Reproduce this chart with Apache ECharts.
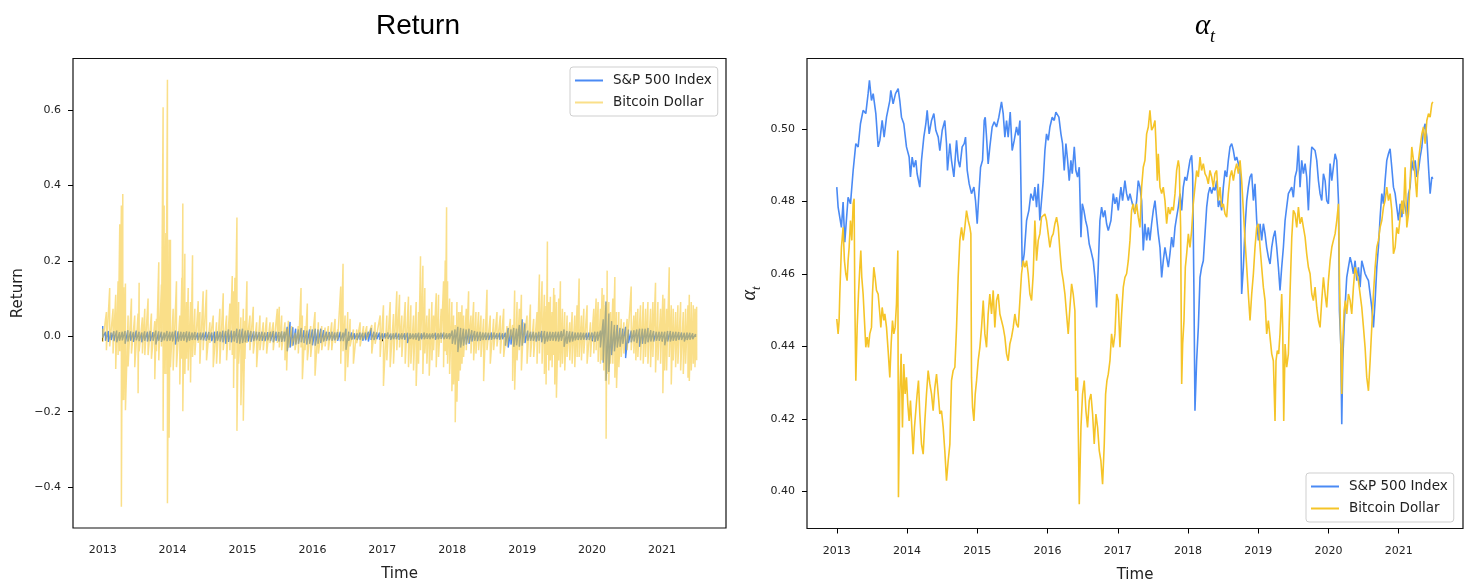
<!DOCTYPE html>
<html><head><meta charset="utf-8">
<script src="https://cdn.jsdelivr.net/npm/echarts@6/dist/echarts.min.js"></script>
<style>html,body{margin:0;padding:0;background:#fff;}#c{width:1469px;height:581px;}</style>
</head><body><div id="c"></div>
<script>
// ---- tick labels ----
const yearTicks = [2013, 2014, 2015, 2016, 2017, 2018, 2019, 2020, 2021];
const returnTicks = [-0.4, -0.2, 0, 0.2, 0.4, 0.6];
const alphaTicks = [0.40, 0.42, 0.44, 0.46, 0.48, 0.50];
const seriesNames = ['S&P 500 Index', 'Bitcoin Dollar'];

// ---- S&P 500 daily return: time, upper, lower ----
const spRetT = [
2013.00,2013.04,2013.08,2013.12,2013.16,2013.20,2013.24,2013.28,2013.32,2013.36,2013.40,2013.44,2013.48,2013.52,2013.56,2013.60,2013.64,2013.68,2013.72,2013.76,2013.80,2013.84,2013.88,2013.92,2013.96,
2014.00,2014.04,2014.08,2014.12,2014.16,2014.20,2014.24,2014.28,2014.32,2014.36,2014.40,2014.44,2014.48,2014.52,2014.56,2014.60,2014.64,2014.68,2014.72,2014.76,2014.80,2014.84,2014.88,2014.92,2014.96,
2015.00,2015.04,2015.08,2015.12,2015.16,2015.20,2015.24,2015.28,2015.32,2015.36,2015.40,2015.44,2015.48,2015.52,2015.56,2015.60,2015.64,2015.68,2015.72,2015.76,2015.80,2015.84,2015.88,2015.92,2015.96,
2016.00,2016.04,2016.08,2016.12,2016.16,2016.20,2016.24,2016.28,2016.32,2016.36,2016.40,2016.44,2016.48,2016.52,2016.56,2016.60,2016.64,2016.68,2016.72,2016.76,2016.80,2016.84,2016.88,2016.92,2016.96,
2017.00,2017.04,2017.08,2017.12,2017.16,2017.20,2017.24,2017.28,2017.32,2017.36,2017.40,2017.44,2017.48,2017.52,2017.56,2017.60,2017.64,2017.68,2017.72,2017.76,2017.80,2017.84,2017.88,2017.92,2017.96,
2018.00,2018.04,2018.08,2018.12,2018.16,2018.20,2018.24,2018.28,2018.32,2018.36,2018.40,2018.44,2018.48,2018.52,2018.56,2018.60,2018.64,2018.68,2018.72,2018.76,2018.80,2018.84,2018.88,2018.92,2018.96,
2019.00,2019.04,2019.08,2019.12,2019.16,2019.20,2019.24,2019.28,2019.32,2019.36,2019.40,2019.44,2019.48,2019.52,2019.56,2019.60,2019.64,2019.68,2019.72,2019.76,2019.80,2019.84,2019.88,2019.92,2019.96,
2020.00,2020.04,2020.08,2020.12,2020.16,2020.20,2020.24,2020.28,2020.32,2020.36,2020.40,2020.44,2020.48,2020.52,2020.56,2020.60,2020.64,2020.68,2020.72,2020.76,2020.80,2020.84,2020.88,2020.92,2020.96,
2021.00,2021.04,2021.08,2021.12,2021.16,2021.20,2021.24,2021.28,2021.32,2021.36,2021.40,2021.44,2021.48
];
const spRetHi = [
0.027,0.012,0.014,0.010,0.013,0.015,0.011,0.012,0.014,0.016,0.013,0.011,0.015,0.012,0.010,0.013,0.012,0.014,0.011,0.015,0.013,0.012,0.010,0.014,0.012,
0.012,0.015,0.013,0.012,0.011,0.013,0.012,0.010,0.011,0.009,0.010,0.010,0.012,0.011,0.010,0.012,0.013,0.012,0.015,0.014,0.018,0.015,0.014,0.020,0.018,
0.020,0.015,0.016,0.014,0.013,0.012,0.011,0.012,0.010,0.011,0.012,0.014,0.012,0.011,0.013,0.012,0.025,0.038,0.024,0.020,0.018,0.022,0.016,0.015,0.018,
0.018,0.020,0.018,0.020,0.016,0.012,0.011,0.012,0.010,0.011,0.012,0.010,0.020,0.012,0.010,0.008,0.008,0.010,0.009,0.010,0.012,0.022,0.012,0.010,0.010,
0.008,0.008,0.010,0.007,0.008,0.009,0.007,0.008,0.008,0.009,0.008,0.007,0.008,0.009,0.008,0.010,0.008,0.007,0.008,0.009,0.008,0.009,0.010,0.008,0.008,
0.015,0.018,0.025,0.022,0.020,0.018,0.020,0.016,0.014,0.012,0.012,0.010,0.010,0.009,0.010,0.010,0.008,0.009,0.008,0.009,0.022,0.018,0.022,0.020,0.030,
0.045,0.034,0.015,0.012,0.012,0.010,0.012,0.014,0.014,0.012,0.012,0.011,0.012,0.012,0.014,0.018,0.014,0.013,0.012,0.010,0.010,0.010,0.009,0.009,0.010,
0.010,0.012,0.012,0.015,0.045,0.092,0.060,0.040,0.030,0.030,0.022,0.020,0.025,0.018,0.015,0.016,0.018,0.020,0.020,0.020,0.022,0.016,0.014,0.012,0.012,
0.012,0.012,0.014,0.014,0.012,0.012,0.011,0.010,0.009,0.010,0.009,0.008,0.006
];
const spRetLo = [
-0.004,-0.012,-0.015,-0.010,-0.013,-0.016,-0.012,-0.011,-0.020,-0.014,-0.012,-0.015,-0.011,-0.013,-0.016,-0.012,-0.014,-0.013,-0.012,-0.022,-0.012,-0.015,-0.011,-0.013,-0.012,
-0.013,-0.022,-0.014,-0.012,-0.012,-0.016,-0.012,-0.010,-0.010,-0.011,-0.010,-0.011,-0.012,-0.010,-0.013,-0.018,-0.012,-0.014,-0.016,-0.020,-0.015,-0.016,-0.014,-0.018,-0.020,
-0.018,-0.016,-0.014,-0.015,-0.013,-0.011,-0.012,-0.012,-0.013,-0.011,-0.013,-0.016,-0.012,-0.014,-0.015,-0.014,-0.040,-0.030,-0.025,-0.022,-0.020,-0.016,-0.018,-0.022,-0.020,
-0.024,-0.025,-0.020,-0.018,-0.014,-0.012,-0.011,-0.012,-0.011,-0.012,-0.013,-0.013,-0.036,-0.012,-0.009,-0.008,-0.010,-0.009,-0.012,-0.011,-0.014,-0.010,-0.010,-0.008,-0.009,
-0.008,-0.006,-0.007,-0.010,-0.008,-0.008,-0.009,-0.008,-0.009,-0.018,-0.007,-0.008,-0.009,-0.012,-0.008,-0.008,-0.007,-0.008,-0.006,-0.009,-0.008,-0.007,-0.008,-0.007,-0.008,
-0.020,-0.022,-0.042,-0.030,-0.025,-0.022,-0.020,-0.014,-0.012,-0.013,-0.012,-0.010,-0.010,-0.010,-0.009,-0.008,-0.008,-0.009,-0.008,-0.025,-0.030,-0.022,-0.028,-0.024,-0.028,
-0.025,-0.018,-0.012,-0.012,-0.012,-0.014,-0.012,-0.016,-0.020,-0.014,-0.012,-0.012,-0.013,-0.014,-0.012,-0.028,-0.020,-0.016,-0.014,-0.011,-0.010,-0.010,-0.009,-0.010,-0.010,
-0.012,-0.015,-0.012,-0.030,-0.070,-0.118,-0.095,-0.050,-0.040,-0.030,-0.028,-0.020,-0.058,-0.018,-0.016,-0.014,-0.018,-0.028,-0.020,-0.020,-0.016,-0.014,-0.014,-0.012,-0.012,
-0.014,-0.024,-0.014,-0.014,-0.012,-0.012,-0.010,-0.010,-0.014,-0.010,-0.009,-0.008,-0.002
];

// ---- Bitcoin daily return: time, upper spike, lower spike ----
const btcRetT = [
2013.000,2013.053,2013.100,2013.148,2013.186,2013.220,2013.244,2013.267,2013.287,2013.301,2013.325,2013.363,2013.411,2013.458,2013.506,2013.521,2013.568,2013.602,2013.649,2013.697,
2013.745,2013.769,2013.802,2013.840,2013.864,2013.879,2013.903,2013.926,2013.950,2013.969,2014.008,2014.055,2014.103,2014.132,2014.146,2014.175,2014.199,2014.223,2014.256,2014.285,
2014.318,2014.366,2014.390,2014.437,2014.485,2014.533,2014.581,2014.628,2014.676,2014.724,2014.772,2014.819,2014.853,2014.872,2014.891,2014.920,2014.944,2014.977,2015.011,2015.034,
2015.063,2015.106,2015.154,2015.202,2015.249,2015.297,2015.345,2015.393,2015.440,2015.498,2015.526,2015.560,2015.607,2015.631,2015.655,2015.703,2015.751,2015.798,2015.837,2015.856,
2015.894,2015.927,2015.975,2016.037,2016.085,2016.133,2016.181,2016.228,2016.276,2016.324,2016.362,2016.405,2016.438,2016.467,2016.505,2016.539,2016.586,2016.634,2016.682,2016.730,
2016.777,
2016.849,2016.897,2016.969,2017.016,2017.064,2017.112,2017.160,2017.207,2017.246,2017.279,2017.327,2017.374,2017.408,2017.446,2017.484,2017.518,2017.546,2017.580,2017.608,2017.637,
2017.671,2017.709,2017.733,2017.771,2017.804,2017.842,2017.876,2017.900,2017.919,2017.933,2017.962,2017.995,2018.019,2018.043,2018.067,2018.091,2018.115,2018.139,2018.162,2018.201,
2018.234,2018.268,2018.306,2018.339,2018.377,2018.411,2018.449,2018.497,2018.544,2018.592,2018.640,2018.688,2018.736,2018.783,2018.831,2018.864,2018.893,2018.927,2018.960,2018.989,
2019.022,2019.070,2019.118,2019.165,2019.213,2019.247,2019.285,2019.318,2019.342,2019.361,2019.380,2019.404,2019.428,2019.452,2019.466,2019.490,2019.523,2019.547,2019.576,2019.609,
2019.643,2019.681,2019.715,2019.753,2019.786,2019.815,2019.848,2019.882,2019.929,2019.977,2020.025,2020.058,2020.087,2020.120,2020.144,2020.168,2020.192,2020.201,2020.216,2020.240,
2020.264,2020.297,2020.326,2020.350,2020.383,2020.417,2020.455,2020.502,2020.560,2020.598,2020.626,2020.655,2020.693,2020.732,2020.765,2020.799,2020.837,2020.870,2020.908,2020.942,
2020.980,2021.013,2021.037,2021.066,2021.104,2021.133,2021.161,2021.195,2021.228,2021.267,2021.305,2021.338,2021.372,2021.391,2021.419,2021.448,2021.472,2021.496
];
const btcRetHi = [
0.020,0.064,0.128,0.073,0.110,0.146,0.297,0.347,0.377,0.130,0.140,0.055,0.100,0.055,0.060,0.142,0.050,0.073,0.100,0.060,
0.040,0.046,0.196,0.137,0.607,0.347,0.274,0.680,0.256,0.256,0.073,0.146,0.055,0.155,0.352,0.219,0.091,0.128,0.091,0.215,
0.073,0.093,0.064,0.119,0.123,0.037,0.055,0.037,0.073,0.114,0.055,0.087,0.160,0.119,0.155,0.315,0.091,0.050,0.073,0.041,
0.146,0.055,0.078,0.037,0.055,0.037,0.050,0.037,0.037,0.073,0.078,0.055,0.037,0.020,0.041,0.027,0.009,0.027,0.128,0.055,
0.027,0.087,0.027,0.064,0.037,0.027,0.023,0.027,0.037,0.046,0.018,0.132,0.192,0.055,0.064,0.046,0.018,0.018,0.037,0.027,
0.027,
0.030,0.037,0.055,0.082,0.055,0.091,0.059,0.119,0.110,0.055,0.091,0.105,0.082,0.055,0.091,0.064,0.212,0.187,0.128,0.055,
0.073,0.091,0.055,0.114,0.110,0.073,0.146,0.201,0.342,0.146,0.100,0.091,0.055,0.030,0.091,0.064,0.064,0.082,0.055,0.073,
0.119,0.055,0.091,0.064,0.064,0.055,0.046,0.123,0.055,0.046,0.064,0.055,0.073,0.027,0.046,0.030,0.121,0.091,0.073,0.110,
0.037,0.055,0.084,0.046,0.064,0.164,0.146,0.110,0.080,0.251,0.091,0.105,0.064,0.128,0.110,0.091,0.100,0.146,0.073,0.064,
0.055,0.037,0.064,0.055,0.082,0.153,0.055,0.073,0.082,0.037,0.073,0.100,0.091,0.073,0.128,0.110,0.082,0.091,0.174,0.091,
0.064,0.100,0.157,0.064,0.064,0.046,0.037,0.046,0.132,0.055,0.064,0.073,0.082,0.091,0.073,0.091,0.073,0.091,0.142,0.091,
0.073,0.110,0.100,0.073,0.183,0.082,0.073,0.064,0.082,0.091,0.064,0.073,0.082,0.110,0.091,0.082,0.073,0.078
];
const btcRetLo = [
-0.015,-0.037,-0.027,-0.046,-0.087,-0.050,-0.040,-0.452,-0.170,-0.169,-0.196,-0.080,-0.046,-0.082,-0.151,-0.040,-0.046,-0.050,-0.050,-0.060,
-0.114,-0.040,-0.064,-0.027,-0.251,-0.100,-0.100,-0.443,-0.269,-0.082,-0.091,-0.082,-0.128,-0.060,-0.199,-0.100,-0.060,-0.091,-0.123,-0.055,
-0.050,-0.018,-0.073,-0.037,-0.064,-0.018,-0.082,-0.073,-0.073,-0.037,-0.064,-0.037,-0.050,-0.137,-0.060,-0.251,-0.073,-0.183,-0.224,-0.060,
-0.018,-0.037,-0.046,-0.082,-0.037,-0.037,-0.046,-0.018,-0.037,-0.018,-0.030,-0.037,-0.064,-0.091,-0.030,-0.027,-0.037,-0.046,-0.030,-0.114,
-0.037,-0.064,-0.055,-0.105,-0.046,-0.037,-0.027,-0.037,-0.037,-0.018,-0.009,-0.073,-0.040,-0.119,-0.082,-0.027,-0.073,-0.018,-0.027,-0.009,
-0.009,
-0.046,-0.020,-0.055,-0.132,-0.064,-0.082,-0.073,-0.037,-0.030,-0.055,-0.073,-0.082,-0.073,-0.091,-0.132,-0.073,-0.037,-0.100,-0.046,-0.073,
-0.105,-0.064,-0.037,-0.082,-0.055,-0.018,-0.082,-0.040,-0.050,-0.073,-0.100,-0.146,-0.128,-0.228,-0.174,-0.119,-0.091,-0.073,-0.055,-0.037,
-0.018,-0.046,-0.064,-0.046,-0.037,-0.055,-0.119,-0.037,-0.073,-0.037,-0.027,-0.046,-0.055,-0.027,-0.009,-0.119,-0.142,-0.064,-0.037,-0.091,
-0.018,-0.073,-0.055,-0.055,-0.073,-0.046,-0.073,-0.100,-0.128,-0.050,-0.091,-0.064,-0.082,-0.050,-0.128,-0.163,-0.064,-0.082,-0.073,-0.091,
-0.055,-0.064,-0.073,-0.082,-0.055,-0.055,-0.064,-0.046,-0.073,-0.055,-0.046,-0.037,-0.068,-0.073,-0.064,-0.091,-0.119,-0.272,-0.100,-0.128,
-0.073,-0.073,-0.110,-0.137,-0.082,-0.055,-0.046,-0.037,-0.037,-0.046,-0.064,-0.055,-0.064,-0.073,-0.055,-0.073,-0.082,-0.055,-0.096,-0.064,
-0.073,-0.151,-0.091,-0.091,-0.055,-0.128,-0.064,-0.082,-0.073,-0.091,-0.100,-0.073,-0.110,-0.119,-0.091,-0.073,-0.082,-0.064
];

// ---- alpha_t series ----
const spAlpha = [
[2013.000,0.4840],[2013.019,0.4785],[2013.066,0.4729],[2013.090,0.4799],[2013.114,0.4688],[2013.161,0.4812],[2013.195,0.4794],[2013.233,0.4886],[2013.271,0.4960],[2013.304,0.4951],[2013.337,0.5015],[2013.375,0.5052],[2013.413,0.5043],[2013.446,0.5098],[2013.465,0.5135],[2013.494,0.5079],[2013.518,0.5098],[2013.556,0.5043],[2013.589,0.4951],[2013.613,0.4969],[2013.646,0.5024],[2013.674,0.4978],[2013.708,0.5033],[2013.755,0.5079],[2013.769,0.5107],[2013.802,0.5070],[2013.836,0.5098],[2013.874,0.5112],[2013.897,0.5079],[2013.921,0.5033],[2013.954,0.5015],[2013.992,0.4951],
[2014.030,0.4923],[2014.049,0.4868],[2014.073,0.4923],[2014.097,0.4895],[2014.125,0.4914],[2014.144,0.4877],[2014.182,0.4840],[2014.206,0.4914],[2014.239,0.4978],[2014.268,0.5015],[2014.287,0.5052],[2014.315,0.4987],[2014.349,0.5024],[2014.382,0.5043],[2014.410,0.4997],[2014.444,0.4978],[2014.467,0.4941],[2014.501,0.4997],[2014.538,0.5024],[2014.562,0.4960],[2014.576,0.4886],[2014.610,0.4960],[2014.633,0.4914],[2014.667,0.4868],[2014.705,0.4969],[2014.728,0.4914],[2014.752,0.4895],[2014.785,0.4951],[2014.814,0.4960],[2014.833,0.4978],[2014.857,0.4886],[2014.885,0.4849],[2014.918,0.4822],[2014.952,0.4840],[2014.975,0.4803],[2014.999,0.4739],
[2015.023,0.4822],[2015.047,0.4895],[2015.075,0.4914],[2015.099,0.5024],[2015.113,0.5033],[2015.132,0.4978],[2015.155,0.4904],[2015.179,0.4951],[2015.212,0.5006],[2015.241,0.5020],[2015.274,0.5006],[2015.307,0.5033],[2015.345,0.5075],[2015.369,0.5043],[2015.393,0.4978],[2015.417,0.5024],[2015.440,0.4978],[2015.469,0.5047],[2015.497,0.4941],[2015.526,0.4969],[2015.559,0.5006],[2015.583,0.4983],[2015.607,0.5024],[2015.626,0.5020],[2015.640,0.4619],[2015.668,0.4656],[2015.702,0.4748],[2015.735,0.4776],[2015.763,0.4822],[2015.797,0.4803],[2015.820,0.4840],[2015.844,0.4785],[2015.868,0.4849],[2015.891,0.4748],[2015.915,0.4803],[2015.939,0.4858],[2015.963,0.4941],[2015.986,0.4987],
[2016.010,0.4969],[2016.034,0.5006],[2016.067,0.5033],[2016.096,0.5024],[2016.119,0.5047],[2016.143,0.5052],[2016.162,0.5033],[2016.191,0.4987],[2016.214,0.4960],[2016.238,0.4886],[2016.262,0.4960],[2016.286,0.4914],[2016.309,0.4858],[2016.333,0.4914],[2016.352,0.4877],[2016.381,0.4951],[2016.404,0.4886],[2016.428,0.4868],[2016.452,0.4895],[2016.476,0.4702],[2016.495,0.4794],[2016.518,0.4776],[2016.542,0.4748],[2016.566,0.4729],[2016.594,0.4683],[2016.618,0.4665],[2016.651,0.4637],[2016.675,0.4591],[2016.699,0.4508],[2016.722,0.4619],[2016.746,0.4748],[2016.770,0.4785],[2016.794,0.4757],[2016.817,0.4776],[2016.841,0.4739],[2016.865,0.4720],[2016.903,0.4748],[2016.936,0.4822],[2016.960,0.4794],[2016.984,0.4812],
[2017.007,0.4776],[2017.045,0.4840],[2017.069,0.4803],[2017.102,0.4858],[2017.126,0.4822],[2017.150,0.4803],[2017.174,0.4822],[2017.197,0.4803],[2017.221,0.4803],[2017.245,0.4766],[2017.269,0.4803],[2017.292,0.4858],[2017.316,0.4840],[2017.340,0.4803],[2017.363,0.4665],[2017.387,0.4739],[2017.411,0.4693],[2017.435,0.4729],[2017.458,0.4693],[2017.482,0.4739],[2017.506,0.4776],[2017.530,0.4803],[2017.553,0.4757],[2017.577,0.4711],[2017.601,0.4674],[2017.625,0.4591],[2017.648,0.4637],[2017.672,0.4674],[2017.696,0.4647],[2017.720,0.4619],[2017.743,0.4656],[2017.767,0.4702],[2017.791,0.4674],[2017.815,0.4729],[2017.838,0.4757],[2017.862,0.4785],[2017.886,0.4822],[2017.910,0.4776],[2017.933,0.4840],[2017.957,0.4868],[2017.981,0.4858],
[2018.005,0.4886],[2018.028,0.4914],[2018.052,0.4928],[2018.066,0.4877],[2018.085,0.4545],[2018.099,0.4223],[2018.123,0.4361],[2018.147,0.4453],[2018.171,0.4591],[2018.194,0.4619],[2018.218,0.4637],[2018.242,0.4711],[2018.266,0.4785],[2018.289,0.4822],[2018.313,0.4840],[2018.337,0.4822],[2018.361,0.4840],[2018.384,0.4831],[2018.408,0.4858],[2018.432,0.4785],[2018.456,0.4803],[2018.479,0.4776],[2018.503,0.4840],[2018.527,0.4886],[2018.551,0.4868],[2018.574,0.4914],[2018.598,0.4951],[2018.622,0.4960],[2018.646,0.4941],[2018.669,0.4914],[2018.693,0.4923],[2018.717,0.4905],[2018.741,0.4886],[2018.764,0.4545],[2018.788,0.4619],[2018.812,0.4729],[2018.836,0.4803],[2018.859,0.4840],[2018.883,0.4868],[2018.907,0.4877],[2018.931,0.4803],[2018.954,0.4849],[2018.978,0.4748],
[2019.002,0.4693],[2019.026,0.4739],[2019.049,0.4693],[2019.073,0.4739],[2019.097,0.4711],[2019.120,0.4674],[2019.144,0.4647],[2019.168,0.4628],[2019.192,0.4674],[2019.215,0.4702],[2019.239,0.4720],[2019.263,0.4674],[2019.287,0.4619],[2019.310,0.4555],[2019.334,0.4619],[2019.358,0.4674],[2019.382,0.4748],[2019.405,0.4785],[2019.429,0.4822],[2019.453,0.4822],[2019.477,0.4840],[2019.500,0.4812],[2019.524,0.4868],[2019.548,0.4886],[2019.572,0.4955],[2019.595,0.4840],[2019.619,0.4914],[2019.643,0.4877],[2019.667,0.4905],[2019.690,0.4868],[2019.714,0.4776],[2019.738,0.4886],[2019.762,0.4951],[2019.785,0.4955],[2019.809,0.4941],[2019.833,0.4914],[2019.857,0.4858],[2019.880,0.4822],[2019.904,0.4803],[2019.928,0.4877],[2019.952,0.4858],[2019.975,0.4803],[2019.999,0.4794],
[2020.023,0.4905],[2020.047,0.4858],[2020.070,0.4895],[2020.094,0.4932],[2020.118,0.4914],[2020.142,0.4803],[2020.156,0.4499],[2020.175,0.4407],[2020.189,0.4186],[2020.203,0.4361],[2020.222,0.4453],[2020.241,0.4527],[2020.260,0.4591],[2020.284,0.4619],[2020.308,0.4647],[2020.331,0.4628],[2020.355,0.4601],[2020.379,0.4637],[2020.403,0.4582],[2020.426,0.4619],[2020.450,0.4564],[2020.474,0.4637],[2020.498,0.4619],[2020.521,0.4601],[2020.545,0.4591],[2020.569,0.4582],[2020.593,0.4545],[2020.616,0.4508],[2020.640,0.4453],[2020.664,0.4527],[2020.688,0.4619],[2020.711,0.4674],[2020.735,0.4757],[2020.759,0.4822],[2020.783,0.4794],[2020.806,0.4858],[2020.830,0.4914],[2020.854,0.4932],[2020.877,0.4946],[2020.901,0.4895],[2020.925,0.4840],[2020.949,0.4822],[2020.972,0.4785],[2020.996,0.4748],
[2021.020,0.4794],[2021.044,0.4757],[2021.067,0.4803],[2021.091,0.4785],[2021.115,0.4757],[2021.139,0.4822],[2021.162,0.4840],[2021.186,0.4914],[2021.210,0.4886],[2021.234,0.4914],[2021.257,0.4868],[2021.281,0.4886],[2021.305,0.4923],[2021.329,0.4951],[2021.352,0.4997],[2021.376,0.5015],[2021.400,0.4978],[2021.424,0.4895],[2021.447,0.4822],[2021.471,0.4868],[2021.485,0.4863]
];
const btcAlpha = [
[2013.000,0.4476],[2013.019,0.4435],[2013.033,0.4472],[2013.043,0.4545],[2013.066,0.4674],[2013.090,0.4729],[2013.109,0.4637],[2013.128,0.4601],[2013.147,0.4582],[2013.161,0.4637],[2013.176,0.4674],[2013.195,0.4748],[2013.214,0.4693],[2013.233,0.4794],[2013.247,0.4808],[2013.256,0.4545],[2013.271,0.4306],[2013.290,0.4453],[2013.309,0.4545],[2013.328,0.4619],[2013.342,0.4665],[2013.356,0.4591],[2013.375,0.4545],[2013.394,0.4472],[2013.413,0.4398],[2013.432,0.4426],[2013.451,0.4398],[2013.470,0.4435],[2013.494,0.4453],[2013.508,0.4545],[2013.527,0.4619],[2013.546,0.4591],[2013.565,0.4555],[2013.589,0.4545],[2013.613,0.4490],[2013.627,0.4453],[2013.646,0.4508],[2013.670,0.4472],[2013.684,0.4490],[2013.708,0.4453],[2013.731,0.4389],[2013.755,0.4315],[2013.774,0.4407],[2013.793,0.4472],[2013.812,0.4435],[2013.831,0.4453],[2013.850,0.4518],[2013.869,0.4665],[2013.878,0.3984],[2013.897,0.4269],[2013.916,0.4380],[2013.935,0.4177],[2013.954,0.4352],[2013.973,0.4269],[2013.992,0.4315],
[2014.011,0.4241],[2014.030,0.4195],[2014.049,0.4251],[2014.068,0.4177],[2014.087,0.4103],[2014.106,0.4177],[2014.125,0.4223],[2014.144,0.4269],[2014.163,0.4306],[2014.182,0.4214],[2014.206,0.4131],[2014.230,0.4103],[2014.254,0.4195],[2014.277,0.4269],[2014.301,0.4334],[2014.325,0.4297],[2014.349,0.4269],[2014.372,0.4223],[2014.396,0.4287],[2014.420,0.4324],[2014.444,0.4269],[2014.467,0.4214],[2014.491,0.4223],[2014.515,0.4177],[2014.538,0.4112],[2014.562,0.4030],[2014.586,0.4085],[2014.610,0.4131],[2014.633,0.4306],[2014.657,0.4334],[2014.681,0.4343],[2014.705,0.4453],[2014.728,0.4591],[2014.752,0.4693],[2014.776,0.4729],[2014.800,0.4693],[2014.823,0.4729],[2014.847,0.4775],[2014.871,0.4748],[2014.895,0.4729],[2014.909,0.4711],[2014.918,0.4315],[2014.933,0.4232],[2014.952,0.4195],[2014.971,0.4269],[2014.990,0.4306],
[2015.013,0.4361],[2015.037,0.4398],[2015.061,0.4453],[2015.085,0.4527],[2015.108,0.4435],[2015.132,0.4398],[2015.155,0.4490],[2015.179,0.4545],[2015.203,0.4490],[2015.227,0.4555],[2015.250,0.4453],[2015.274,0.4527],[2015.298,0.4545],[2015.322,0.4490],[2015.345,0.4472],[2015.369,0.4453],[2015.393,0.4426],[2015.417,0.4380],[2015.440,0.4361],[2015.464,0.4407],[2015.488,0.4426],[2015.512,0.4453],[2015.535,0.4490],[2015.559,0.4462],[2015.583,0.4453],[2015.607,0.4527],[2015.630,0.4601],[2015.654,0.4637],[2015.678,0.4619],[2015.702,0.4637],[2015.725,0.4601],[2015.749,0.4545],[2015.773,0.4527],[2015.797,0.4601],[2015.820,0.4748],[2015.844,0.4637],[2015.868,0.4693],[2015.891,0.4711],[2015.915,0.4757],[2015.939,0.4757],[2015.963,0.4766],[2015.986,0.4748],
[2016.010,0.4711],[2016.034,0.4674],[2016.058,0.4702],[2016.081,0.4711],[2016.105,0.4739],[2016.129,0.4757],[2016.153,0.4729],[2016.176,0.4665],[2016.200,0.4610],[2016.224,0.4582],[2016.248,0.4545],[2016.271,0.4490],[2016.295,0.4435],[2016.319,0.4508],[2016.343,0.4573],[2016.366,0.4545],[2016.390,0.4499],[2016.404,0.4278],[2016.428,0.4315],[2016.452,0.3965],[2016.476,0.4177],[2016.499,0.4269],[2016.523,0.4306],[2016.547,0.4223],[2016.570,0.4177],[2016.594,0.4251],[2016.618,0.4269],[2016.642,0.4214],[2016.665,0.4131],[2016.689,0.4214],[2016.713,0.4177],[2016.737,0.4112],[2016.760,0.4085],[2016.784,0.4020],[2016.808,0.4131],[2016.827,0.4269],[2016.846,0.4306],[2016.865,0.4324],[2016.889,0.4361],[2016.912,0.4435],[2016.936,0.4398],[2016.960,0.4435],[2016.984,0.4545],
[2017.007,0.4527],[2017.031,0.4398],[2017.055,0.4490],[2017.079,0.4564],[2017.102,0.4591],[2017.126,0.4601],[2017.150,0.4637],[2017.174,0.4693],[2017.197,0.4776],[2017.221,0.4794],[2017.245,0.4766],[2017.269,0.4794],[2017.292,0.4757],[2017.316,0.4729],[2017.340,0.4840],[2017.363,0.4895],[2017.387,0.4914],[2017.411,0.4987],[2017.435,0.5006],[2017.458,0.5052],[2017.482,0.4997],[2017.506,0.5006],[2017.530,0.5024],[2017.544,0.4960],[2017.563,0.4858],[2017.577,0.4932],[2017.601,0.4840],[2017.625,0.4822],[2017.648,0.4840],[2017.672,0.4803],[2017.696,0.4739],[2017.720,0.4785],[2017.743,0.4766],[2017.767,0.4785],[2017.791,0.4776],[2017.815,0.4822],[2017.838,0.4886],[2017.862,0.4914],[2017.876,0.4895],[2017.895,0.4729],[2017.910,0.4297],[2017.924,0.4407],[2017.943,0.4472],[2017.962,0.4619],[2017.981,0.4656],
[2018.005,0.4711],[2018.028,0.4674],[2018.052,0.4720],[2018.075,0.4794],[2018.099,0.4840],[2018.123,0.4886],[2018.147,0.4868],[2018.171,0.4923],[2018.194,0.4886],[2018.218,0.4905],[2018.242,0.4877],[2018.266,0.4868],[2018.289,0.4849],[2018.313,0.4886],[2018.337,0.4868],[2018.361,0.4840],[2018.384,0.4877],[2018.408,0.4886],[2018.432,0.4803],[2018.456,0.4840],[2018.479,0.4785],[2018.503,0.4794],[2018.527,0.4766],[2018.551,0.4757],[2018.574,0.4822],[2018.598,0.4868],[2018.622,0.4886],[2018.646,0.4858],[2018.669,0.4886],[2018.693,0.4905],[2018.717,0.4877],[2018.741,0.4914],[2018.764,0.4858],[2018.788,0.4776],[2018.812,0.4693],[2018.836,0.4619],[2018.859,0.4545],[2018.883,0.4472],[2018.907,0.4545],[2018.931,0.4601],[2018.954,0.4674],[2018.978,0.4729],
[2019.002,0.4739],[2019.026,0.4674],[2019.049,0.4619],[2019.073,0.4564],[2019.097,0.4527],[2019.120,0.4435],[2019.144,0.4472],[2019.168,0.4426],[2019.192,0.4380],[2019.215,0.4361],[2019.239,0.4195],[2019.253,0.4361],[2019.272,0.4389],[2019.291,0.4380],[2019.310,0.4435],[2019.334,0.4545],[2019.348,0.4453],[2019.363,0.4195],[2019.382,0.4407],[2019.405,0.4343],[2019.429,0.4380],[2019.453,0.4550],[2019.477,0.4700],[2019.500,0.4776],[2019.524,0.4766],[2019.548,0.4729],[2019.572,0.4785],[2019.595,0.4739],[2019.619,0.4757],[2019.643,0.4729],[2019.667,0.4702],[2019.690,0.4656],[2019.714,0.4619],[2019.738,0.4601],[2019.762,0.4545],[2019.785,0.4527],[2019.809,0.4564],[2019.833,0.4508],[2019.857,0.4472],[2019.880,0.4453],[2019.904,0.4527],[2019.928,0.4591],[2019.952,0.4545],[2019.975,0.4508],[2019.999,0.4582],
[2020.023,0.4637],[2020.047,0.4674],[2020.070,0.4693],[2020.094,0.4711],[2020.118,0.4748],[2020.142,0.4794],[2020.156,0.4591],[2020.175,0.4407],[2020.189,0.4269],[2020.203,0.4407],[2020.222,0.4499],[2020.241,0.4527],[2020.260,0.4490],[2020.284,0.4545],[2020.308,0.4527],[2020.331,0.4490],[2020.355,0.4564],[2020.379,0.4619],[2020.403,0.4601],[2020.426,0.4582],[2020.450,0.4545],[2020.474,0.4508],[2020.498,0.4453],[2020.521,0.4398],[2020.545,0.4315],[2020.569,0.4278],[2020.593,0.4361],[2020.616,0.4453],[2020.640,0.4545],[2020.664,0.4619],[2020.688,0.4674],[2020.711,0.4693],[2020.735,0.4729],[2020.759,0.4748],[2020.783,0.4785],[2020.806,0.4803],[2020.830,0.4840],[2020.854,0.4803],[2020.877,0.4822],[2020.901,0.4776],[2020.925,0.4656],[2020.949,0.4674],[2020.972,0.4729],[2020.996,0.4711],
[2021.020,0.4757],[2021.044,0.4803],[2021.067,0.4766],[2021.091,0.4895],[2021.115,0.4729],[2021.139,0.4766],[2021.162,0.4858],[2021.186,0.4951],[2021.210,0.4914],[2021.234,0.4868],[2021.257,0.4812],[2021.281,0.4914],[2021.305,0.4951],[2021.329,0.4987],[2021.352,0.5006],[2021.376,0.4960],[2021.400,0.5024],[2021.424,0.5043],[2021.447,0.5033],[2021.471,0.5070],[2021.485,0.5075]
];

// ---- styling constants ----
const BLUE = '#4a8af4';
const YELLOW = '#f5c428';
const YELLOW_LIGHT = 'rgba(245,196,40,0.55)';
const TXT = '#222';
const TICKFONT = { fontFamily: 'DejaVu Sans', fontSize: 11, color: TXT };
const NAMEFONT = { fontFamily: 'DejaVu Sans', fontSize: 15, color: TXT };

// each sample drawn as an up/down stroke at its time
const spReturnData = [];
spRetT.forEach((t, i) => { spReturnData.push([t, spRetHi[i]], [t, spRetLo[i]]); });
const btcReturnData = [];
btcRetT.forEach((t, i) => { btcReturnData.push([t, btcRetHi[i]], [t, btcRetLo[i]]); });

function xAxisCfg(grid, min, max) {
  return {
    type: 'value', gridIndex: grid, min: min, max: max,
    name: 'Time', nameLocation: 'middle', nameGap: 39, nameTextStyle: NAMEFONT,
    axisLine: { show: false }, splitLine: { show: false },
    axisTick: { show: true, inside: false, length: 5, lineStyle: { color: '#000', width: 1 }, customValues: yearTicks },
    axisLabel: Object.assign({ customValues: yearTicks, margin: 17, formatter: v => String(v) }, TICKFONT)
  };
}

const legendBase = {
  orient: 'vertical', selectedMode: false,
  backgroundColor: '#fff', borderColor: '#cfcfcf', borderWidth: 1, borderRadius: 3,
  padding: [5, 6, 5, 5], itemGap: 5, itemWidth: 28, itemHeight: 2, icon: 'rect',
  textStyle: { fontFamily: 'DejaVu Sans', fontSize: 13.5, color: TXT, lineHeight: 17, padding: [0, 0, 0, 5] }
};

const mathRich = (big, small, drop, col) => ({
  a: { fontFamily: 'Liberation Serif', fontStyle: 'italic', fontWeight: 'normal', fontSize: big, color: col, verticalAlign: 'bottom', padding: [0, 0, drop, 0] },
  t: { fontFamily: 'Liberation Serif', fontStyle: 'italic', fontWeight: 'normal', fontSize: small, color: col, verticalAlign: 'bottom' }
});

const option = {
  animation: false,
  backgroundColor: '#fff',
  title: [
    { text: 'Return', left: 413, top: 7, textAlign: 'center', padding: 5,
      textStyle: { fontFamily: 'Liberation Sans', fontSize: 28, fontWeight: 'normal', color: '#000' } },
    { text: '{a|α}{t|t}', left: 1200, top: 7, textAlign: 'center', padding: 5,
      textStyle: { fontWeight: 'normal', rich: mathRich(29, 18, 5, '#000') } }
  ],
  legend: [
    Object.assign({}, legendBase, { left: 570, top: 67,
      data: [ { name: seriesNames[0], itemStyle: { color: BLUE } },
              { name: seriesNames[1], itemStyle: { color: YELLOW_LIGHT } } ] }),
    Object.assign({}, legendBase, { left: 1306, top: 473,
      data: [ { name: seriesNames[0], itemStyle: { color: BLUE } },
              { name: seriesNames[1], itemStyle: { color: YELLOW } } ] })
  ],
  grid: [
    { left: 73, top: 58.5, width: 653, height: 469.5, show: true, borderColor: '#111', borderWidth: 1.2,
      backgroundColor: 'transparent', containLabel: false, outerBoundsMode: 'none' },
    { left: 807, top: 58.5, width: 656, height: 470, show: true, borderColor: '#111', borderWidth: 1.2,
      backgroundColor: 'transparent', containLabel: false, outerBoundsMode: 'none' }
  ],
  xAxis: [ xAxisCfg(0, 2012.575, 2021.916), xAxisCfg(1, 2012.576, 2021.915) ],
  yAxis: [
    { type: 'value', gridIndex: 0, min: -0.5086, max: 0.7366,
      name: 'Return', nameLocation: 'middle', nameGap: 47, nameRotate: 90, nameTextStyle: NAMEFONT,
      axisLine: { show: false }, splitLine: { show: false },
      axisTick: { show: true, inside: false, length: 5, lineStyle: { color: '#000', width: 1 }, customValues: returnTicks },
      axisLabel: Object.assign({ customValues: returnTicks, margin: 12,
        formatter: v => (v < -1e-9 ? '\u2212' : '') + Math.abs(v).toFixed(1) }, TICKFONT) },
    { type: 'value', gridIndex: 1, min: 0.3898, max: 0.5195,
      name: '{a|α}{t|t}', nameLocation: 'middle', nameGap: 44, nameRotate: 90,
      nameTextStyle: { rich: mathRich(20, 13, 3, TXT) },
      axisLine: { show: false }, splitLine: { show: false },
      axisTick: { show: true, inside: false, length: 5, lineStyle: { color: '#000', width: 1 }, customValues: alphaTicks },
      axisLabel: Object.assign({ customValues: alphaTicks, margin: 12, formatter: v => v.toFixed(2) }, TICKFONT) }
  ],
  series: [
    { name: seriesNames[0], type: 'line', xAxisIndex: 0, yAxisIndex: 0, data: spReturnData,
      showSymbol: false, symbol: 'none', lineStyle: { color: BLUE, width: 1.4 }, itemStyle: { color: BLUE }, z: 2 },
    { name: seriesNames[1], type: 'line', xAxisIndex: 0, yAxisIndex: 0, data: btcReturnData,
      showSymbol: false, symbol: 'none', lineStyle: { color: YELLOW, width: 1.5, opacity: 0.55 }, itemStyle: { color: YELLOW }, z: 3 },
    { name: seriesNames[0], type: 'line', xAxisIndex: 1, yAxisIndex: 1, data: spAlpha,
      showSymbol: false, symbol: 'none', lineStyle: { color: BLUE, width: 1.6 }, itemStyle: { color: BLUE }, z: 2 },
    { name: seriesNames[1], type: 'line', xAxisIndex: 1, yAxisIndex: 1, data: btcAlpha,
      showSymbol: false, symbol: 'none', lineStyle: { color: YELLOW, width: 1.6 }, itemStyle: { color: YELLOW }, z: 3 }
  ]
};

const chart = echarts.init(document.getElementById('c'), null, { renderer: 'canvas' });
chart.setOption(option);
</script>
</body></html>
